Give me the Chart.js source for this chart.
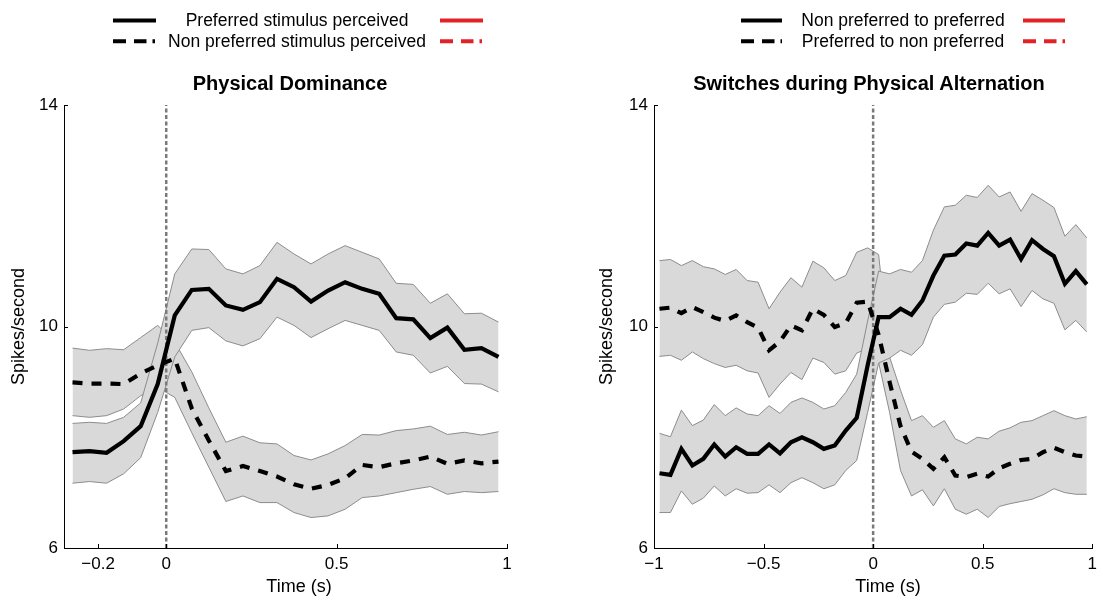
<!DOCTYPE html>
<html>
<head>
<meta charset="utf-8">
<script src="https://cdn.jsdelivr.net/npm/chart.js@4.4.1/dist/chart.umd.min.js"></script>
<style>
  body { margin: 0; background: #fff; width: 1103px; height: 603px; overflow: hidden; position: relative;
         font-family: "Liberation Sans", Arial, sans-serif; color: #000; }
  canvas { position: absolute; top: 0; }
  svg { position: absolute; left: 0; top: 0; }
  .txt { position: absolute; white-space: nowrap; transform: translateX(-50%); }
  .leg { font-size: 17.5px; line-height: 21px; }
  .ttl { font-size: 20px; font-weight: bold; line-height: 24px; }
  .xt  { font-size: 18px; line-height: 22px; }
</style>
</head>
<body>
<canvas id="leftChart" width="550" height="603" style="left:0"></canvas>
<canvas id="rightChart" width="553" height="603" style="left:550px"></canvas>

<!-- legend line samples -->
<svg width="1103" height="60">
  <line x1="113" y1="20.5" x2="156" y2="20.5" stroke="#000" stroke-width="4"/>
  <line x1="440" y1="20.5" x2="483" y2="20.5" stroke="#e32228" stroke-width="4"/>
  <line x1="113" y1="41.3" x2="156" y2="41.3" stroke="#000" stroke-width="4" stroke-dasharray="13 8 12.5 6 2.5 20"/>
  <line x1="440" y1="41.3" x2="483" y2="41.3" stroke="#e32228" stroke-width="4" stroke-dasharray="13 8 12.5 6 2.5 20"/>
  <line x1="741" y1="20.5" x2="782" y2="20.5" stroke="#000" stroke-width="4"/>
  <line x1="1023" y1="20.5" x2="1065" y2="20.5" stroke="#e32228" stroke-width="4"/>
  <line x1="741" y1="41.3" x2="782" y2="41.3" stroke="#000" stroke-width="4" stroke-dasharray="13 8 12.5 6 2.5 20"/>
  <line x1="1023" y1="41.3" x2="1065" y2="41.3" stroke="#e32228" stroke-width="4" stroke-dasharray="13 8 12.5 6 2.5 20"/>
</svg>
<div class="txt leg" style="left:297px; top:10px">Preferred stimulus perceived</div>
<div class="txt leg" style="left:297px; top:31px">Non preferred stimulus perceived</div>
<div class="txt leg" style="left:903px; top:10px">Non preferred to preferred</div>
<div class="txt leg" style="left:903px; top:31px">Preferred to non preferred</div>

<div class="txt ttl" style="left:290px; top:71px">Physical Dominance</div>
<div class="txt ttl" style="left:869px; top:71px">Switches during Physical Alternation</div>

<div class="txt xt" style="left:299px; top:575px">Time (s)</div>
<div class="txt xt" style="left:888px; top:575px">Time (s)</div>

<script>
// ---- data: Physical Dominance (left) ----
const timeLeft = [-0.275, -0.225, -0.175, -0.125, -0.075, -0.025, 0.025, 0.075, 0.125, 0.175,
                  0.225, 0.275, 0.325, 0.375, 0.425, 0.475, 0.525, 0.575, 0.625, 0.675,
                  0.725, 0.775, 0.825, 0.875, 0.925, 0.975];
const prefMean = [7.73, 7.75, 7.72, 7.93, 8.20, 8.96, 10.20, 10.66, 10.68, 10.38, 10.30, 10.44, 10.86,
                  10.71, 10.45, 10.65, 10.80, 10.68, 10.59, 10.15, 10.13, 9.79, 9.98, 9.58, 9.61, 9.45];
const prefUpper = [8.25, 8.27, 8.25, 8.36, 8.62, 9.70, 10.95, 11.40, 11.39, 11.04, 10.95, 11.10, 11.52,
                   11.31, 11.13, 11.31, 11.46, 11.34, 11.22, 10.78, 10.76, 10.42, 10.59, 10.23, 10.24, 10.08];
const prefLower = [7.17, 7.20, 7.17, 7.34, 7.63, 8.45, 9.45, 9.93, 9.98, 9.74, 9.65, 9.78, 10.17,
                   10.02, 9.80, 9.96, 10.11, 10.02, 9.93, 9.54, 9.48, 9.16, 9.28, 8.97, 8.96, 8.82];
const nonPrefMean = [8.99, 8.97, 8.97, 8.96, 9.15, 9.30, 9.42, 8.52, 7.94, 7.39, 7.48, 7.39, 7.29,
                     7.15, 7.07, 7.14, 7.26, 7.50, 7.46, 7.53, 7.58, 7.65, 7.52, 7.58, 7.53, 7.56];
const nonPrefUpper = [9.61, 9.57, 9.60, 9.58, 9.80, 10.02, 9.72, 9.18, 8.53, 7.91, 8.02, 7.90, 7.88,
                      7.67, 7.59, 7.70, 7.85, 8.05, 8.04, 8.12, 8.15, 8.20, 8.05, 8.09, 8.04, 8.10];
const nonPrefLower = [8.39, 8.36, 8.39, 8.51, 8.75, 8.90, 8.72, 8.08, 7.46, 6.84, 6.94, 6.82, 6.82,
                      6.64, 6.55, 6.58, 6.70, 6.91, 6.94, 7.00, 7.06, 7.11, 6.97, 7.02, 7.00, 7.02];

// ---- data: Switches during Physical Alternation (right) ----
const timeRight = [-0.975, -0.925, -0.875, -0.825, -0.775, -0.725, -0.675, -0.625, -0.575, -0.525,
                   -0.475, -0.425, -0.375, -0.325, -0.275, -0.225, -0.175, -0.125, -0.075, -0.025,
                   0.025, 0.075, 0.125, 0.175, 0.225, 0.275, 0.325, 0.375, 0.425, 0.475,
                   0.525, 0.575, 0.625, 0.675, 0.725, 0.775, 0.825, 0.875, 0.925, 0.975];
const toPrefMean = [7.35, 7.32, 7.79, 7.49, 7.61, 7.87, 7.65, 7.82, 7.70, 7.70, 7.87, 7.71, 7.91, 8.00,
                    7.91, 7.79, 7.85, 8.12, 8.35, 9.30, 10.17, 10.17, 10.32, 10.21, 10.47, 10.92, 11.28,
                    11.30, 11.50, 11.46, 11.69, 11.46, 11.57, 11.22, 11.56, 11.40, 11.27, 10.77, 11.00, 10.76];
const toPrefUpper = [8.07, 8.01, 8.49, 8.21, 8.31, 8.59, 8.39, 8.53, 8.42, 8.39, 8.57, 8.43, 8.63, 8.71,
                     8.63, 8.51, 8.57, 8.81, 9.14, 10.10, 11.00, 10.95, 11.03, 10.98, 11.19, 11.74, 12.16,
                     12.19, 12.37, 12.33, 12.55, 12.34, 12.43, 12.08, 12.40, 12.28, 12.15, 11.63, 11.84, 11.60];
const toPrefLower = [6.64, 6.64, 7.03, 6.79, 6.90, 7.12, 6.94, 7.07, 6.99, 7.00, 7.14, 7.00, 7.18, 7.27,
                     7.18, 7.07, 7.14, 7.40, 7.58, 8.45, 9.34, 9.43, 9.57, 9.48, 9.67, 10.17, 10.40,
                     10.44, 10.60, 10.58, 10.78, 10.59, 10.68, 10.36, 10.65, 10.50, 10.42, 9.94, 10.11, 9.90];
const toNonPrefMean = [10.32, 10.34, 10.24, 10.35, 10.26, 10.16, 10.10, 10.20, 10.08, 9.98, 9.57, 9.73,
                       10.02, 9.93, 10.32, 10.21, 9.99, 10.06, 10.43, 10.45, 9.85, 9.00, 8.20, 7.74,
                       7.61, 7.43, 7.64, 7.31, 7.28, 7.34, 7.29, 7.44, 7.52, 7.59, 7.61, 7.73, 7.81, 7.73, 7.67, 7.65];
const toNonPrefUpper = [11.19, 11.21, 11.10, 11.19, 11.08, 11.04, 10.94, 11.03, 10.83, 10.80, 10.32, 10.62,
                        10.88, 10.71, 11.18, 11.06, 10.83, 10.92, 11.34, 11.42, 11.30, 9.45, 8.85, 8.30,
                        8.39, 8.18, 8.30, 7.97, 7.88, 8.00, 7.97, 8.11, 8.17, 8.27, 8.30, 8.39, 8.48, 8.39, 8.33, 8.37];
const toNonPrefLower = [9.46, 9.48, 9.39, 9.54, 9.42, 9.33, 9.26, 9.30, 9.20, 9.16, 8.72, 8.96,
                        9.17, 9.04, 9.43, 9.35, 9.14, 9.20, 9.52, 9.60, 9.35, 8.45, 7.40, 6.94,
                        7.05, 6.76, 7.07, 6.70, 6.61, 6.70, 6.55, 6.75, 6.80, 6.84, 6.88, 6.96, 7.07, 7.00, 6.97, 6.97];

// ---- axes ----
const yTicks = [6, 10, 14];
const yMin = 6, yMax = 14;
const xTicksLeft = [-0.2, 0, 0.5, 1];
const xTicksRight = [-1, -0.5, 0, 0.5, 1];
const onsetTime = 0;

const FONT = '"Liberation Sans", Arial, sans-serif';
const BAND_FILL = '#d9d9d9';
const BAND_EDGE = '#8c8c8c';

const pts = (t, v) => t.map((x, i) => ({ x, y: v[i] }));
const fmtTick = v => (v < 0 ? '\u2212' + Math.abs(v) : String(v));

// small ticks pointing into the plot, like the original
const innerTicks = {
  id: 'innerTicks',
  afterDraw(chart) {
    const { ctx, chartArea: a, scales: { x, y } } = chart;
    ctx.save();
    ctx.strokeStyle = '#000';
    ctx.lineWidth = 1;
    ctx.beginPath();
    x.ticks.forEach(t => {
      const px = Math.round(x.getPixelForValue(t.value)) + 0.5;
      ctx.moveTo(px, a.bottom); ctx.lineTo(px, a.bottom - 4);
    });
    y.ticks.forEach(t => {
      const py = Math.round(y.getPixelForValue(t.value)) + 0.5;
      ctx.moveTo(a.left, py); ctx.lineTo(a.left + 4, py);
    });
    ctx.stroke();
    ctx.restore();
  }
};

function makeChart(id, time, solid, solidUp, solidLo, dashed, dashUp, dashLo, xMin, xMax, xTicks, pad, yTitlePad) {
  return new Chart(document.getElementById(id), {
    type: 'line',
    data: {
      datasets: [
        { data: pts(time, solid), borderColor: '#000', borderWidth: 4.2, borderCapStyle: 'butt' },
        { data: pts(time, dashed), borderColor: '#000', borderWidth: 4.2, borderDash: [10, 9], borderCapStyle: 'butt' },
        { data: [{ x: onsetTime, y: yMin }, { x: onsetTime, y: yMax }],
          borderColor: '#7a7a7a', borderWidth: 2.5, borderDash: [4, 2.5] },
        { data: pts(time, solidUp), borderColor: BAND_EDGE, borderWidth: 1 },
        { data: pts(time, solidLo), borderColor: BAND_EDGE, borderWidth: 1, fill: '-1', backgroundColor: BAND_FILL },
        { data: pts(time, dashUp), borderColor: BAND_EDGE, borderWidth: 1 },
        { data: pts(time, dashLo), borderColor: BAND_EDGE, borderWidth: 1, fill: '-1', backgroundColor: BAND_FILL }
      ]
    },
    options: {
      responsive: false,
      animation: false,
      events: [],
      elements: { point: { radius: 0 }, line: { tension: 0 } },
      layout: { padding: pad },
      plugins: { legend: { display: false }, tooltip: { enabled: false } },
      scales: {
        x: {
          type: 'linear', min: xMin, max: xMax,
          afterBuildTicks: s => { s.ticks = xTicks.map(v => ({ value: v })); },
          afterFit: s => { s.height = 55; },
          ticks: { callback: fmtTick, color: '#000', padding: 6, maxRotation: 0, autoSkip: false,
                   font: { family: FONT, size: 17 } },
          grid: { display: false, drawTicks: false },
          border: { display: true, color: '#000', width: 1 }
        },
        y: {
          type: 'linear', min: yMin, max: yMax,
          afterBuildTicks: s => { s.ticks = yTicks.map(v => ({ value: v })); },
          afterFit: s => { s.width = 64; },
          ticks: { color: '#000', padding: 6, font: { family: FONT, size: 17 } },
          grid: { display: false, drawTicks: false },
          border: { display: true, color: '#000', width: 1 },
          title: { display: true, text: 'Spikes/second', color: '#000',
                   font: { family: FONT, size: 18 }, padding: { top: yTitlePad, bottom: 0 } }
        }
      }
    },
    plugins: [innerTicks]
  });
}

makeChart('leftChart', timeLeft, prefMean, prefUpper, prefLower, nonPrefMean, nonPrefUpper, nonPrefLower,
          -0.3, 1, xTicksLeft, { left: 0, right: 43, top: 105, bottom: 0 }, 8);
makeChart('rightChart', timeRight, toPrefMean, toPrefUpper, toPrefLower, toNonPrefMean, toNonPrefUpper, toNonPrefLower,
          -1, 1, xTicksRight, { left: 40, right: 7, top: 105, bottom: 0 }, 6);
</script>
</body>
</html>
